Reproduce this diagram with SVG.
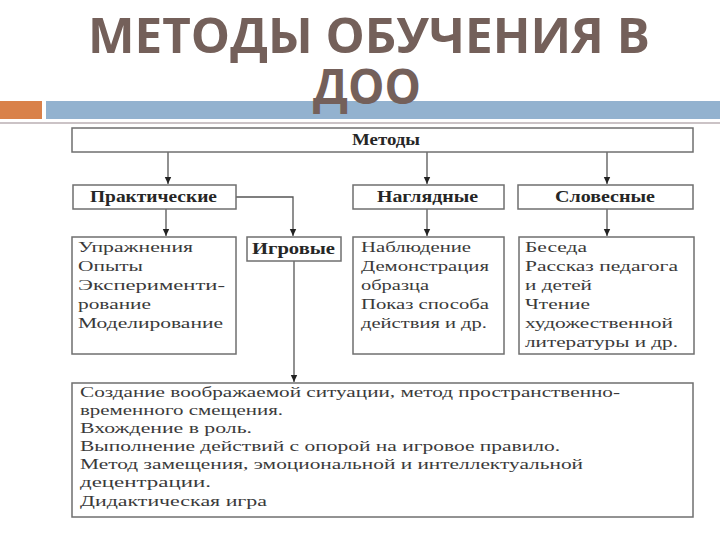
<svg xmlns="http://www.w3.org/2000/svg" width="720" height="540" viewBox="0 0 720 540">
<defs>
<style>
.title{font-family:"Open Sans","DejaVu Sans",sans-serif;font-weight:700;font-size:49px;fill:#74605a}
.box{fill:#fff;stroke:#6f6f6f;stroke-width:1.5}
.hd{font-family:"Liberation Serif","Times New Roman",serif;font-weight:700;font-size:16px;fill:#262626}
.tx{font-family:"Liberation Serif","Times New Roman",serif;font-size:15px;fill:#3a3a3a}
.ln{fill:none;stroke:#555;stroke-width:1.3}
</style>
<marker id="ah" markerUnits="userSpaceOnUse" markerWidth="8" markerHeight="8" refX="7" refY="4" orient="auto">
<path d="M0,0.8 L7,4 L0,7.2 Z" fill="#222"/>
</marker>
</defs>
<rect width="720" height="540" fill="#fff"/>
<g id="header">
<rect x="0" y="101" width="42" height="18" fill="#d9814a"/>
<rect x="46" y="101" width="674" height="18" fill="#93b2cf"/>
<rect x="0" y="122" width="720" height="2" fill="#cbc3c6"/>
<text class="title" x="369" y="53" text-anchor="middle" textLength="562" lengthAdjust="spacingAndGlyphs">МЕТОДЫ ОБУЧЕНИЯ В</text>
<text class="title" x="367" y="104" text-anchor="middle" textLength="108" lengthAdjust="spacingAndGlyphs">ДОО</text>
</g>
<g id="connectors">
<path class="ln" d="M168 152 V184" marker-end="url(#ah)"/>
<path class="ln" d="M427 152 V184" marker-end="url(#ah)"/>
<path class="ln" d="M607 152 V184" marker-end="url(#ah)"/>
<path class="ln" d="M166 209 V236" marker-end="url(#ah)"/>
<path class="ln" d="M236 197 H293 V236" marker-end="url(#ah)"/>
<path class="ln" d="M427 209 V236" marker-end="url(#ah)"/>
<path class="ln" d="M607 209 V236" marker-end="url(#ah)"/>
<path class="ln" d="M294 261 V382" marker-end="url(#ah)"/>
</g>
<g id="metody">
<rect class="box" x="72" y="128" width="621" height="24"/>
<text class="hd" x="352" y="145" textLength="68" lengthAdjust="spacingAndGlyphs">Методы</text>
</g>
<g id="prakticheskie">
<rect class="box" x="73" y="185" width="163" height="24"/>
<text class="hd" x="90" y="202" textLength="127" lengthAdjust="spacingAndGlyphs">Практические</text>
</g>
<g id="naglyadnye">
<rect class="box" x="353" y="185" width="151" height="24"/>
<text class="hd" x="377" y="202" textLength="101" lengthAdjust="spacingAndGlyphs">Наглядные</text>
</g>
<g id="slovesnye">
<rect class="box" x="518" y="185" width="175" height="24"/>
<text class="hd" x="555" y="202" textLength="100" lengthAdjust="spacingAndGlyphs">Словесные</text>
</g>
<g id="prakt-list">
<rect class="box" x="72" y="237" width="164" height="117"/>
<text class="tx" x="78" y="252" textLength="115" lengthAdjust="spacingAndGlyphs">Упражнения</text>
<text class="tx" x="78" y="271" textLength="65" lengthAdjust="spacingAndGlyphs">Опыты</text>
<text class="tx" x="78" y="290" textLength="147" lengthAdjust="spacingAndGlyphs">Эксперименти-</text>
<text class="tx" x="78" y="309" textLength="73" lengthAdjust="spacingAndGlyphs">рование</text>
<text class="tx" x="78" y="328" textLength="145" lengthAdjust="spacingAndGlyphs">Моделирование</text>
</g>
<g id="igrovye">
<rect class="box" x="247" y="237" width="94" height="24"/>
<text class="hd" x="252" y="254" textLength="83" lengthAdjust="spacingAndGlyphs">Игровые</text>
</g>
<g id="nagl-list">
<rect class="box" x="353" y="237" width="151" height="117"/>
<text class="tx" x="361" y="252" textLength="110" lengthAdjust="spacingAndGlyphs">Наблюдение</text>
<text class="tx" x="361" y="271" textLength="128" lengthAdjust="spacingAndGlyphs">Демонстрация</text>
<text class="tx" x="361" y="290" textLength="68" lengthAdjust="spacingAndGlyphs">образца</text>
<text class="tx" x="361" y="309" textLength="128" lengthAdjust="spacingAndGlyphs">Показ способа</text>
<text class="tx" x="361" y="328" textLength="126" lengthAdjust="spacingAndGlyphs">действия и др.</text>
</g>
<g id="slov-list">
<rect class="box" x="519" y="237" width="175" height="117"/>
<text class="tx" x="525" y="252" textLength="62" lengthAdjust="spacingAndGlyphs">Беседа</text>
<text class="tx" x="525" y="271" textLength="153" lengthAdjust="spacingAndGlyphs">Рассказ педагога</text>
<text class="tx" x="525" y="290" textLength="67" lengthAdjust="spacingAndGlyphs">и детей</text>
<text class="tx" x="525" y="309" textLength="65" lengthAdjust="spacingAndGlyphs">Чтение</text>
<text class="tx" x="525" y="328" textLength="148" lengthAdjust="spacingAndGlyphs">художественной</text>
<text class="tx" x="525" y="347" textLength="153" lengthAdjust="spacingAndGlyphs">литературы и др.</text>
</g>
<g id="igr-list">
<rect class="box" x="72" y="383" width="621" height="134"/>
<text class="tx" x="80" y="397" textLength="540" lengthAdjust="spacingAndGlyphs">Создание воображаемой ситуации, метод пространственно-</text>
<text class="tx" x="80" y="415" textLength="203" lengthAdjust="spacingAndGlyphs">временного смещения.</text>
<text class="tx" x="80" y="433" textLength="172" lengthAdjust="spacingAndGlyphs">Вхождение в роль.</text>
<text class="tx" x="80" y="451" textLength="480" lengthAdjust="spacingAndGlyphs">Выполнение действий с опорой на игровое правило.</text>
<text class="tx" x="80" y="469" textLength="503" lengthAdjust="spacingAndGlyphs">Метод замещения, эмоциональной и интеллектуальной</text>
<text class="tx" x="80" y="487" textLength="131" lengthAdjust="spacingAndGlyphs">децентрации.</text>
<text class="tx" x="80" y="506" textLength="187" lengthAdjust="spacingAndGlyphs">Дидактическая игра</text>
</g>
</svg>
